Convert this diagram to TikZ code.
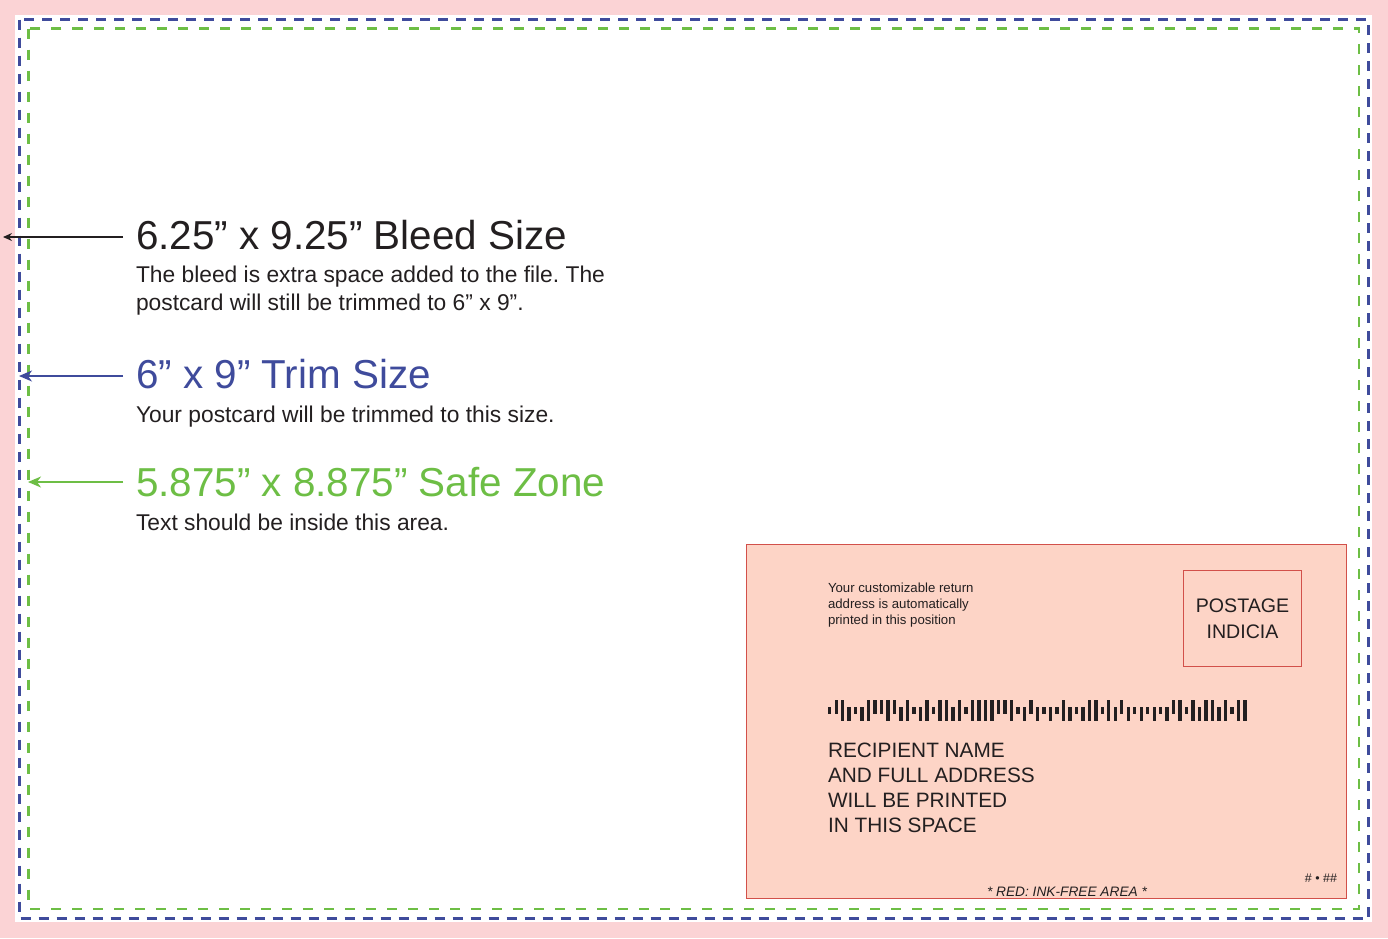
\documentclass[tikz,border=0pt]{standalone}
\usepackage{fontspec}
\setmainfont{Liberation Sans}
\usetikzlibrary{arrows.meta,calc}
\definecolor{bgpink}{HTML}{FBD3D5}
\definecolor{trimblue}{HTML}{3F4B9C}
\definecolor{safegreen}{HTML}{6DBE45}
\definecolor{ink}{HTML}{231F20}
\definecolor{inkfree}{HTML}{FDD4C6}
\definecolor{inkred}{HTML}{D2504A}
\newcommand{\fsz}[1]{\fontsize{#1pt}{#1pt}\selectfont}
\def\btopF{700}\def\bbotF{721}
\def\btopA{700}\def\bbotA{714}
\def\btopD{707}\def\bbotD{721}
\def\btopT{707}\def\bbotT{714}
\frenchspacing
\begin{document}
\begin{tikzpicture}[x=1pt,y=-1pt,
  every node/.style={inner sep=0pt,outer sep=0pt,text=ink},
  title/.style={anchor=base west,font=\fsz{40.4}},
  body/.style={anchor=base west,font=\fsz{22.8},align=left},
  arr/.style={line width=1.4pt,-{Stealth[length=13pt,width=11pt,inset=4pt]}},
  bleedline/.style={draw=trimblue,line width=2.2pt,dash pattern=on 10pt off 8pt},
  safeline/.style={draw=safegreen,line width=2.2pt,dash pattern=on 10pt off 11pt},
  addr/.style={anchor=base west,font=\fsz{20.8},align=left,text=ink}
]
\useasboundingbox (0,0) rectangle (1388,938);
\fill[bgpink] (0,0) rectangle (1388,938);
\fill[white] (15,15) rectangle (1372,922);
\draw[bleedline] (19.5,19.5) rectangle (1368.5,918.5);
\draw[safeline] (28.5,28.5) rectangle (1359,909);

% labels
\node[title] (t1) at (136,249) {6.25” x 9.25” Bleed Size};
\node[body] (b1) at (136,282) {The bleed is extra space added to the file. The};
\node[body] (b1b) at (136,310) {postcard will still be trimmed to 6” x 9”.};
\node[title,text=trimblue] (t2) at (136,388) {6” x 9” Trim Size};
\node[body] (b2) at (136,422) {Your postcard will be trimmed to this size.};
\node[title,text=safegreen] (t3) at (136,496) {5.875” x 8.875” Safe Zone};
\node[body] (b3) at (136,530) {Text should be inside this area.};

\coordinate (a1) at (3,237);
\coordinate (a2) at (19,376);
\coordinate (a3) at (28,482);
\draw[arr,draw=ink,-{Stealth[length=9pt,width=8pt,inset=3pt]}] ($(t1.base west |- a1)+(-13,0)$) -- (a1);
\draw[arr,draw=trimblue] ($(t2.base west |- a2)+(-13,0)$) -- (a2);
\draw[arr,draw=safegreen] ($(t3.base west |- a3)+(-13,0)$) -- (a3);

% ink-free area
\draw[fill=inkfree,draw=inkred,line width=1pt] (746.5,544.5) rectangle (1346.5,898.5);
\node[anchor=base west,font=\fsz{13.2},align=left] (ret) at (828,592) {Your customizable return};
\node[anchor=base west,font=\fsz{13.2}] (ret2) at (828,608) {address is automatically};
\node[anchor=base west,font=\fsz{13.2}] (ret3) at (828,624) {printed in this position};
\node[draw=inkred,line width=1pt,minimum width=118pt,minimum height=96pt,anchor=north west] (stamp) at (1183.5,570.5) {};
\node[font=\fsz{19.6},anchor=base] (p1) at ($(stamp.center |- 0,612)$) {POSTAGE};
\node[font=\fsz{19.6},anchor=base] (p2) at ($(stamp.center |- 0,638)$) {INDICIA};

% barcode
\foreach \t [count=\i from 0] in {T,A,F,D,T,D,F,A,A,F,A,D,F,T,D,F,T,F,F,D,F,T,F,F,F,F,A,A,F,T,D,A,D,T,D,T,F,D,T,D,F,F,T,F,D,A,D,T,D,T,D,T,D,A,F,T,F,D,F,F,D,F,T,F,F}{
  \fill[ink] (828+\i*6.49,\csname btop\t\endcsname) rectangle (831.4+\i*6.49,\csname bbot\t\endcsname);
}

\node[addr] (r1) at (828,757) {RECIPIENT NAME};
\node[addr] (r2) at (828,782) {AND FULL ADDRESS};
\node[addr] (r3) at (828,807) {WILL BE PRINTED};
\node[addr] (r4) at (828,832) {IN THIS SPACE};
\node[anchor=base,font=\fsz{13.7}\itshape] (red) at (1067,896) {* RED: INK-FREE AREA *};
\node[anchor=base east,font=\fsz{12.5}] (num) at (1337,882) {\# • \#\#};
\end{tikzpicture}
\end{document}
